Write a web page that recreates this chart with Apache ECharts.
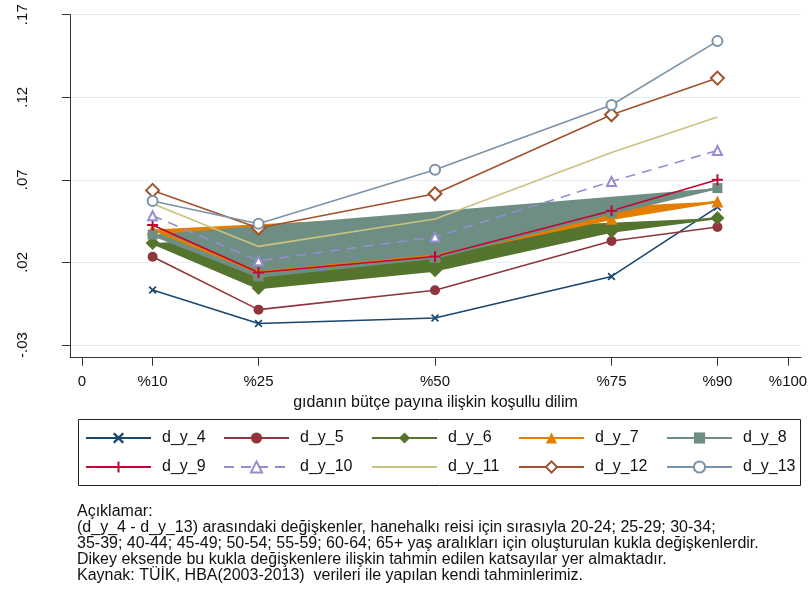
<!DOCTYPE html>
<html><head><meta charset="utf-8">
<script src="https://cdn.jsdelivr.net/npm/echarts@6/dist/echarts.min.js"></script>
<style>html,body{margin:0;padding:0;background:#fff}#c{width:812px;height:601px}</style>
</head><body><div id="c"></div>
<script>
// ---- data ----
const quantiles = [10, 25, 50, 75, 90];
const seriesNames = ['d_y_4','d_y_5','d_y_6','d_y_7','d_y_8','d_y_9','d_y_10','d_y_11','d_y_12','d_y_13'];
const d_y_4  = [0.0033, -0.0170, -0.0137, 0.0115, 0.0535];
const d_y_5  = [0.0234, -0.0086, 0.0031, 0.0330, 0.0414];
const d_y_6  = [0.0317, 0.0045, 0.0152, 0.0388, 0.0469];
const d_y_7  = [0.0400, 0.0140, 0.0240, 0.0465, 0.0569];
const d_y_8  = [0.0368, 0.0115, 0.0228, 0.0500, 0.0650];
const d_y_9  = [0.0426, 0.0139, 0.0236, 0.0513, 0.0700];
const d_y_10 = [0.0483, 0.0210, 0.0354, 0.0690, 0.0878];
const d_y_11 = [0.0555, 0.0297, 0.0463, 0.0866, 0.1080];
const d_y_12 = [0.0636, 0.0408, 0.0616, 0.1094, 0.1316];
const d_y_13 = [0.0572, 0.0434, 0.0761, 0.1153, 0.1540];
const xTickValues = [0, 10, 25, 50, 75, 90, 100];
const xTickLabels = ['0', '%10', '%25', '%50', '%75', '%90', '%100'];
const yTickValues = [-0.03, 0.02, 0.07, 0.12, 0.17];
const yTickLabels = ['-.03', '.02', '.07', '.12', '.17'];
const xAxisTitle = 'gıdanın bütçe payına ilişkin koşullu dilim';
const noteLines = [
  'Açıklamar:',
  '(d_y_4 - d_y_13) arasındaki değişkenler, hanehalkı reisi için sırasıyla 20-24; 25-29; 30-34;',
  '35-39; 40-44; 45-49; 50-54; 55-59; 60-64; 65+ yaş aralıkları için oluşturulan kukla değişkenlerdir.',
  'Dikey eksende bu kukla değişkenlere ilişkin tahmin edilen katsayılar yer almaktadır.',
  'Kaynak: TÜİK, HBA(2003-2013)  verileri ile yapılan kendi tahminlerimiz.'
];

// ---- styling ----
const FONT = '"Liberation Sans", Arial, Helvetica, sans-serif';
const X_SYM = 'path://M1.5,0L5,3.5L8.5,0L10,1.5L6.5,5L10,8.5L8.5,10L5,6.5L1.5,10L0,8.5L3.5,5L0,1.5Z';
const PLUS_SYM = 'path://M4.1,0H5.9V4.1H10V5.9H5.9V10H4.1V5.9H0V4.1H4.1Z';

function pts(vals){ return quantiles.map((q,i)=>[q, vals[i]]); }

function lineSeries(name, vals, color, symbol, size, width, extra) {
  const s = {
    type: 'line', name: name, data: pts(vals),
    symbol: symbol, symbolSize: size, showSymbol: symbol !== 'none',
    lineStyle: { color: color, width: width },
    itemStyle: { color: color, borderColor: color, borderWidth: (symbol.indexOf('empty') === 0) ? 1.5 : 0 },
    emphasis: { disabled: true }, silent: true, animation: false
  };
  if (extra) Object.assign(s.lineStyle, extra);
  return s;
}
function polySeries(name, vals, color) {
  return {
    type: 'custom', name: name + '_fill', coordinateSystem: 'cartesian2d',
    data: pts(vals), encode: { x: 0, y: 1 }, silent: true, animation: false,
    renderItem: function (params, api) {
      if (params.dataIndex !== 0) return null;
      const p = quantiles.map((q, i) => api.coord([q, vals[i]]));
      return { type: 'polygon', shape: { points: p }, style: { fill: color } };
    }
  };
}

const C = {
  d4: '#1a476f', d5: '#90353b', d6: '#55752f', d7: '#e37e00', d8: '#6e8e84',
  d9: '#c10534', d10: '#938dd2', d11: '#cac27e', d12: '#a0522d', d13: '#7b92a8'
};

const series = [
  lineSeries('d_y_4', d_y_4, C.d4, X_SYM, 8, 1.6),
  lineSeries('d_y_5', d_y_5, C.d5, 'circle', 10, 1.6),
  polySeries('d_y_6', d_y_6, C.d6),
  lineSeries('d_y_6', d_y_6, C.d6, 'diamond', 14, 2.6),
  polySeries('d_y_7', d_y_7, C.d7),
  lineSeries('d_y_7', d_y_7, C.d7, 'triangle', 12, 2.6),
  polySeries('d_y_8', d_y_8, C.d8),
  lineSeries('d_y_8', d_y_8, C.d8, 'rect', 10, 2.6),
  lineSeries('d_y_9', d_y_9, C.d9, PLUS_SYM, 11, 1.6),
  lineSeries('d_y_10', d_y_10, C.d10, 'emptyTriangle', 9, 1.6, { type: [10, 7] }),
  lineSeries('d_y_11', d_y_11, C.d11, 'none', 0, 1.6),
  lineSeries('d_y_12', d_y_12, C.d12, 'emptyDiamond', 13, 1.6),
  lineSeries('d_y_13', d_y_13, C.d13, 'emptyCircle', 10, 1.6)
];

const legendCols = [[0,5],[1,6],[2,7],[3,8],[4,9]];
const legendLeft = [85, 223, 371, 518, 666];
const legends = legendCols.map((col, k) => ({
  orient: 'vertical', left: legendLeft[k], top: 430, padding: 0,
  itemWidth: 65, itemHeight: 14, itemGap: 13, selectedMode: false,
  data: col.map(i => seriesNames[i] === 'd_y_11'
    ? { name: seriesNames[i], itemStyle: { opacity: 0 } }
    : seriesNames[i]),
  textStyle: { fontSize: 16, color: '#111', fontFamily: FONT, padding: [0, 0, 0, 6] }
}));

const chart = echarts.init(document.getElementById('c'), null, { renderer: 'canvas' });
chart.setOption({
  animation: false,
  backgroundColor: '#fff',
  textStyle: { fontFamily: FONT },
  grid: { left: 70, right: 11, top: 14.7, bottom: 243.3, containLabel: false },
  xAxis: {
    type: 'value', min: -1.7, max: 101.84,
    name: xAxisTitle, nameLocation: 'middle', nameGap: 31,
    nameTextStyle: { fontSize: 16, color: '#111', fontFamily: FONT },
    axisLine: { show: true, onZero: false, lineStyle: { color: '#333', width: 1 } },
    axisTick: { show: true, customValues: xTickValues, length: 8, lineStyle: { color: '#333', width: 1 } },
    axisLabel: { customValues: xTickValues, margin: 17, fontSize: 15, color: '#111', fontFamily: FONT,
      formatter: v => { const i = xTickValues.indexOf(v); return i >= 0 ? xTickLabels[i] : ''; } },
    splitLine: { show: false }
  },
  yAxis: {
    type: 'value', min: -0.0377, max: 0.17,
    axisLine: { show: true, onZero: false, lineStyle: { color: '#333', width: 1 } },
    axisTick: { show: true, customValues: yTickValues, length: 8, lineStyle: { color: '#333', width: 1 } },
    axisLabel: { customValues: yTickValues, rotate: 90, margin: 40, fontSize: 15, color: '#111', fontFamily: FONT,
      formatter: v => { const i = yTickValues.findIndex(t => Math.abs(t - v) < 1e-9); return i >= 0 ? yTickLabels[i] : ''; } },
    splitLine: { show: true, lineStyle: { color: '#e6eef2', width: 1.2 } }
  },
  legend: legends,
  title: {
    left: 72, top: 499, text: noteLines.join('\n'),
    textStyle: { fontSize: 16, fontWeight: 'normal', lineHeight: 15.8, color: '#111', fontFamily: FONT }
  },
  graphic: [{
    type: 'rect', left: 76, top: 417, silent: true,
    shape: { width: 722, height: 66 },
    style: { fill: 'none', stroke: '#222', lineWidth: 1 }
  }],
  series: series
});
</script>
</body></html>
